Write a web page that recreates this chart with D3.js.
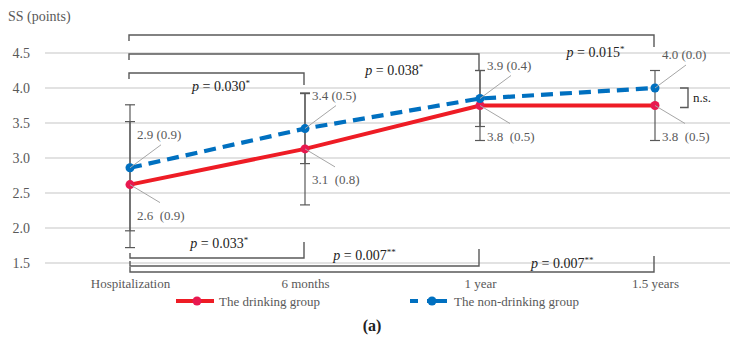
<!DOCTYPE html>
<html>
<head>
<meta charset="utf-8">
<script src="https://cdn.jsdelivr.net/npm/d3@7"></script>
<style>
  html, body { margin: 0; padding: 0; background: #fff; }
  svg { display: block; }
</style>
</head>
<body>
<svg id="chart" width="734" height="345"></svg>
<script>
// ---- data ----
const categories = ["Hospitalization", "6 months", "1 year", "1.5 years"];
const drinkingMean = [2.62, 3.13, 3.75, 3.75];
const drinkingSD = [0.9, 0.8, 0.5, 0.5];
const nonDrinkingMean = [2.86, 3.42, 3.85, 4.0];
const nonDrinkingSD = [0.9, 0.5, 0.4, 0.0];
const drinkingLabels = ["2.6  (0.9)", "3.1  (0.8)", "3.8  (0.5)", "3.8  (0.5)"];
const nonDrinkingLabels = ["2.9 (0.9)", "3.4 (0.5)", "3.9 (0.4)", "4.0 (0.0)"];
const yTicks = [1.5, 2.0, 2.5, 3.0, 3.5, 4.0, 4.5];
const seriesNames = ["The drinking group", "The non-drinking group"];
const topTests = [ // from index, to index, p value, stars
  [0, 3, "0.015", "*"],
  [0, 2, "0.038", "*"],
  [0, 1, "0.030", "*"]
];
const bottomTests = [
  [0, 1, "0.033", "*"],
  [0, 2, "0.007", "**"],
  [0, 3, "0.007", "**"]
];
const yTitle = "SS (points)";
const panelLabel = "(a)";
const nsLabel = "n.s.";

// ---- layout ----
const SERIF = "Liberation Serif";
const svg = d3.select("#chart");
const x = d3.scalePoint().domain(categories).range([130, 655]);
const y = d3.scaleLinear().domain([1.5, 4.5]).range([263, 53]);
const red = "#ee1c25", redMarker = "#e8194f", blue = "#0070c0";
const grey = "#595959";

function txt(sel, size, fill) {
  return sel.style("font-family", SERIF).style("font-size", size + "px").attr("xml:space", "preserve").attr("fill", fill);
}

// gridlines
svg.append("g").selectAll("line").data(yTicks).join("line")
  .attr("x1", 45).attr("x2", 730)
  .attr("y1", d => y(d)).attr("y2", d => y(d))
  .attr("stroke", "#d9d9d9").attr("stroke-width", 1.3);

// y axis labels
const yAxis = d3.axisLeft(y).tickValues(yTicks).tickFormat(d3.format(".1f")).tickSize(0).tickPadding(0);
const yg = svg.append("g").attr("transform", "translate(30,0)").call(yAxis);
yg.select(".domain").remove();
txt(yg.selectAll("text"), 14, grey).attr("dy", "0.35em");

// x axis labels
const xAxis = d3.axisBottom(x).tickSize(0).tickPadding(0);
const xg = svg.append("g").attr("transform", "translate(0,279)").call(xAxis);
xg.select(".domain").remove();
txt(xg.selectAll("text"), 13, grey).attr("dy", "0.71em");

// y title
txt(svg.append("text").attr("x", 8).attr("y", 21), 14, grey).text(yTitle);

// brackets
const topLayout = [ {yb: 35, lt: 6, rt: 12, frac: 0.66, ly: 57}, {yb: 54, lt: 6, rt: 16, frac: 0.51, ly: 75}, {yb: 73, lt: 6, rt: 12, frac: 0.52, ly: 91} ];
const botLayout = [ {yb: 258, lt: 5, rt: 16, frac: 0.51, ly: 248}, {yb: 266, lt: 5, rt: 17, frac: 0.34, ly: 260}, {yb: 272, lt: 5, rt: 16, frac: 0.47, ly: 268} ];

function drawPLabel(cx, ly, p, stars) {
  const t = txt(svg.append("text").attr("x", cx).attr("y", ly).attr("text-anchor", "middle"), 14, "#222");
  t.append("tspan").style("font-style", "italic").text("p");
  t.append("tspan").text(" = " + p);
  t.append("tspan").style("font-size", "9px").attr("dy", -5).text(stars);
}

topTests.forEach((d, i) => {
  const L = topLayout[i];
  const x0 = x(categories[d[0]]) - 1, x1 = x(categories[d[1]]) - 1;
  svg.append("path")
    .attr("d", `M${x0},${L.yb + L.lt}V${L.yb}H${x1}V${L.yb + L.rt}`)
    .attr("fill", "none").attr("stroke", grey).attr("stroke-width", 1.4);
  const a = x(categories[d[1] - 1]), b = x(categories[d[1]]);
  drawPLabel(a + L.frac * (b - a), L.ly, d[2], d[3]);
});
bottomTests.forEach((d, i) => {
  const L = botLayout[i];
  const x0 = x(categories[d[0]]), x1 = x(categories[d[1]]) - 1;
  svg.append("path")
    .attr("d", `M${x0},${L.yb - L.lt}V${L.yb}H${x1}V${L.yb - L.rt}`)
    .attr("fill", "none").attr("stroke", grey).attr("stroke-width", 1.4);
  const a = x(categories[d[1] - 1]), b = x(categories[d[1]]);
  drawPLabel(a + L.frac * (b - a), L.ly, d[2], d[3]);
});

// error bars
function errorBars(means, sds) {
  const g = svg.append("g").attr("stroke", grey).attr("stroke-width", 1.2);
  means.forEach((m, i) => {
    if (sds[i] === 0) return;
    const cx = x(categories[i]);
    g.append("line").attr("x1", cx).attr("x2", cx).attr("y1", y(m - sds[i])).attr("y2", y(m + sds[i]));
    [m - sds[i], m + sds[i]].forEach(v => {
      g.append("line").attr("x1", cx - 5).attr("x2", cx + 5).attr("y1", y(v)).attr("y2", y(v));
    });
  });
}
errorBars(nonDrinkingMean, nonDrinkingSD);
errorBars(drinkingMean, drinkingSD);

// lines
const line = d3.line().x((d, i) => x(categories[i])).y(d => y(d));
svg.append("path").datum(drinkingMean).attr("d", line)
  .attr("fill", "none").attr("stroke", red).attr("stroke-width", 4);
svg.append("path").datum(nonDrinkingMean).attr("d", line)
  .attr("fill", "none").attr("stroke", blue).attr("stroke-width", 4.2).attr("stroke-dasharray", "12,7");

// markers
svg.append("g").selectAll("circle").data(drinkingMean).join("circle")
  .attr("cx", (d, i) => x(categories[i])).attr("cy", d => y(d)).attr("r", 4.5).attr("fill", redMarker);
svg.append("g").selectAll("circle").data(nonDrinkingMean).join("circle")
  .attr("cx", (d, i) => x(categories[i])).attr("cy", d => y(d)).attr("r", 4.5).attr("fill", blue);

// value labels with leader lines
const lbl = svg.append("g");
nonDrinkingMean.forEach((m, i) => {
  const cx = x(categories[i]), cy = y(m);
  const ex = cx + 31, ey = cy - 23;
  lbl.append("line").attr("x1", cx).attr("y1", cy).attr("x2", ex).attr("y2", ey)
    .attr("stroke", "#a6a6a6").attr("stroke-width", 1);
  txt(lbl.append("text").attr("x", cx + 7).attr("y", ey - 6), 13, grey).text(nonDrinkingLabels[i]);
});
drinkingMean.forEach((m, i) => {
  const cx = x(categories[i]), cy = y(m);
  const ex = cx + 30, ey = cy + 18;
  lbl.append("line").attr("x1", cx).attr("y1", cy).attr("x2", ex).attr("y2", ey)
    .attr("stroke", "#a6a6a6").attr("stroke-width", 1);
  txt(lbl.append("text").attr("x", cx + 7).attr("y", ey + 17), 13, grey).text(drinkingLabels[i]);
});

// n.s. bracket
const nsX = x(categories[3]) + 25;
svg.append("path")
  .attr("d", `M${nsX},${y(nonDrinkingMean[3])}H${nsX + 8}V${y(drinkingMean[3]) + 2}H${nsX}`)
  .attr("fill", "none").attr("stroke", grey).attr("stroke-width", 1.4);
txt(svg.append("text").attr("x", nsX + 13).attr("y", y(drinkingMean[3]) - 4), 13, "#222").text(nsLabel);

// legend
const leg = svg.append("g");
leg.append("line").attr("x1", 176).attr("x2", 214).attr("y1", 301).attr("y2", 301)
  .attr("stroke", red).attr("stroke-width", 4);
leg.append("circle").attr("cx", 197).attr("cy", 301).attr("r", 4.5).attr("fill", redMarker);
txt(leg.append("text").attr("x", 219).attr("y", 306), 13, grey).text(seriesNames[0]);
leg.append("line").attr("x1", 410).attr("x2", 447).attr("y1", 301).attr("y2", 301)
  .attr("stroke", blue).attr("stroke-width", 4.2).attr("stroke-dasharray", "8,9,20");
leg.append("circle").attr("cx", 432).attr("cy", 301).attr("r", 4.5).attr("fill", blue);
txt(leg.append("text").attr("x", 454).attr("y", 306), 13, grey).text(seriesNames[1]);

// panel label
txt(svg.append("text").attr("x", 372).attr("y", 331).attr("text-anchor", "middle"), 16, "#222")
  .style("font-weight", "bold").text(panelLabel);
</script>
</body>
</html>
